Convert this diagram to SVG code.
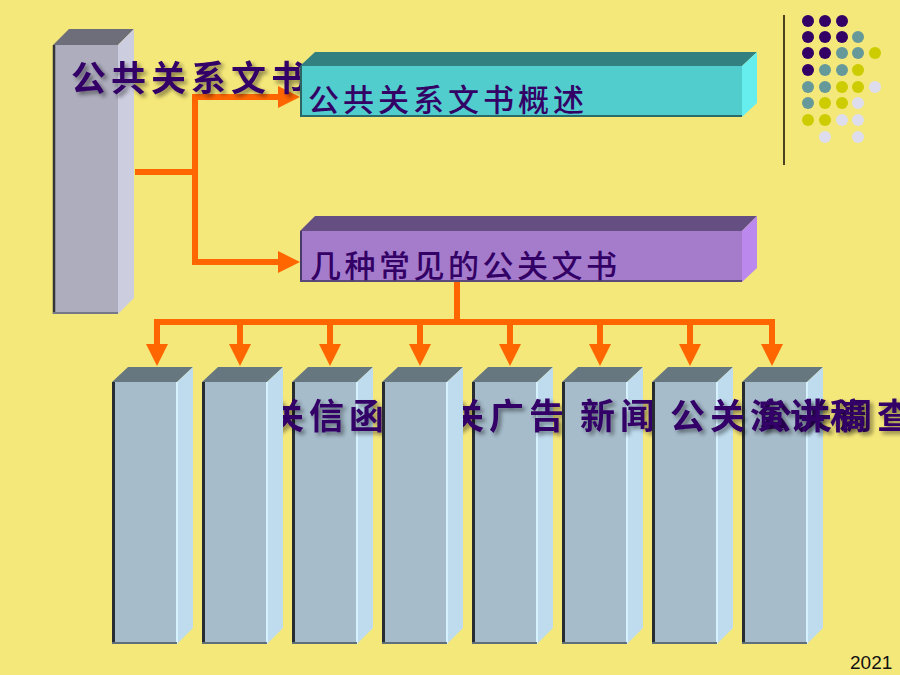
<svg xmlns="http://www.w3.org/2000/svg" xmlns:xlink="http://www.w3.org/1999/xlink" width="900" height="675" viewBox="0 0 900 675">
<style>
.lbl{font-family:"Noto Sans CJK SC","Noto Sans CJK JP",sans-serif;fill:#330066;}
.col{font-size:35px;letter-spacing:5px;font-weight:bold;}
.hdr{font-size:31px;font-weight:500;}
.conn{fill:none;stroke:#FF6600;stroke-width:6;stroke-linejoin:miter;}
.num{font-family:"Liberation Sans",Arial,sans-serif;font-size:19px;fill:#111;}
</style>
<defs>
<filter id="sh" x="-10%" y="-30%" width="120%" height="170%">
<feGaussianBlur in="SourceAlpha" stdDeviation="2"/>
<feOffset dx="3" dy="3"/>
<feComponentTransfer><feFuncA type="linear" slope="0.45"/></feComponentTransfer>
<feMerge><feMergeNode/><feMergeNode in="SourceGraphic"/></feMerge>
</filter>
<marker id="ah" viewBox="0 0 22 22" markerWidth="22" markerHeight="22" refX="0" refY="11" orient="auto" markerUnits="userSpaceOnUse">
<path d="M0,0 L22,11 L0,22 Z" fill="#FF6600"/>
</marker>
<g id="colbox">
<rect x="0" y="382" width="65" height="262" fill="#A6BCCB"/>
<polygon points="0,382 16,367 81,367 65,382" fill="#66777F"/>
<polygon points="65,382 81,367 81,628 65,644" fill="#BEDCEE"/>
<line x1="65" y1="382" x2="65" y2="644" stroke="#D6F2FF" stroke-width="2"/>
<line x1="1.5" y1="382" x2="1.5" y2="644" stroke="#262C30" stroke-width="3"/>
<line x1="0" y1="643" x2="65" y2="643" stroke="#5F6F7A" stroke-width="2"/>
</g>
</defs>
<rect width="900" height="675" fill="#F5E87A"/>

<g id="decor">
<line x1="784" y1="15" x2="784" y2="165" stroke="#4D4020" stroke-width="2"/>
<g fill="#330066">
<circle cx="808" cy="21" r="6"/><circle cx="825" cy="21" r="6"/><circle cx="842" cy="21" r="6"/>
<circle cx="808" cy="37" r="6"/><circle cx="825" cy="37" r="6"/><circle cx="842" cy="37" r="6"/>
<circle cx="808" cy="53" r="6"/><circle cx="825" cy="53" r="6"/>
<circle cx="808" cy="70" r="6"/>
</g>
<g fill="#669999">
<circle cx="858" cy="37" r="6"/>
<circle cx="842" cy="53" r="6"/><circle cx="858" cy="53" r="6"/>
<circle cx="825" cy="70" r="6"/><circle cx="842" cy="70" r="6"/>
<circle cx="808" cy="87" r="6"/><circle cx="825" cy="87" r="6"/>
<circle cx="808" cy="103" r="6"/>
</g>
<g fill="#CCCC00">
<circle cx="875" cy="53" r="6"/>
<circle cx="858" cy="70" r="6"/>
<circle cx="842" cy="87" r="6"/><circle cx="858" cy="87" r="6"/>
<circle cx="825" cy="103" r="6"/><circle cx="842" cy="103" r="6"/>
<circle cx="808" cy="120" r="6"/><circle cx="825" cy="120" r="6"/>
</g>
<g fill="#DDDDEE">
<circle cx="875" cy="87" r="6"/>
<circle cx="858" cy="103" r="6"/>
<circle cx="842" cy="120" r="6"/><circle cx="858" cy="120" r="6"/>
<circle cx="825" cy="137" r="6"/><circle cx="858" cy="137" r="6"/>
</g>
</g>

<g id="connectors">
<path class="conn" d="M135,172 H195"/>
<path class="conn" d="M195,172 V97 H278" marker-end="url(#ah)"/>
<path class="conn" d="M195,172 V262 H278" marker-end="url(#ah)"/>
<path class="conn" d="M457,282 V322"/>
<path class="conn" d="M157,344 V322 H772 V344" />
<path class="conn" d="M157,330 V344" marker-end="url(#ah)"/>
<path class="conn" d="M772,330 V344" marker-end="url(#ah)"/>
<path class="conn" d="M240,322 V344" marker-end="url(#ah)"/>
<path class="conn" d="M330,322 V344" marker-end="url(#ah)"/>
<path class="conn" d="M420,322 V344" marker-end="url(#ah)"/>
<path class="conn" d="M510,322 V344" marker-end="url(#ah)"/>
<path class="conn" d="M600,322 V344" marker-end="url(#ah)"/>
<path class="conn" d="M690,322 V344" marker-end="url(#ah)"/>
</g>

<g id="root">
<rect x="53" y="45" width="65" height="269" fill="#AEADBD"/>
<polygon points="53,45 69,29 134,29 118,45" fill="#6E6E7A"/>
<polygon points="118,45 134,29 134,298 118,314" fill="#CDCDE0"/>
<line x1="54" y1="45" x2="54" y2="314" stroke="#333338" stroke-width="2.5"/>
<line x1="53" y1="313" x2="118" y2="313" stroke="#77778A" stroke-width="2"/>
<text class="lbl col" x="71" y="91" filter="url(#sh)">公共关系文书</text>
</g>

<g id="overview">
<rect x="300" y="66" width="442" height="51" fill="#52CDCD"/>
<polygon points="300,66 315,52 757,52 742,66" fill="#338080"/>
<polygon points="742,66 757,52 757,103 742,117" fill="#66EEEE"/>
<line x1="301" y1="66" x2="301" y2="117" stroke="#2D6363" stroke-width="2"/>
<line x1="300" y1="116" x2="742" y2="116" stroke="#2D6B6B" stroke-width="2"/>
<text class="lbl hdr" x="308" y="111" letter-spacing="4">公共关系文书概述</text>
</g>

<g id="types">
<rect x="300" y="231" width="442" height="51" fill="#A57BCB"/>
<polygon points="300,231 315,216 757,216 742,231" fill="#654E82"/>
<polygon points="742,231 757,216 757,268 742,282" fill="#BB88EE"/>
<line x1="301" y1="231" x2="301" y2="282" stroke="#4A3A6A" stroke-width="2"/>
<line x1="300" y1="281" x2="742" y2="281" stroke="#5A4A7A" stroke-width="2"/>
<text class="lbl hdr" x="310" y="277" letter-spacing="3.5">几种常见的公关文书</text>
</g>

<g id="col1"><use xlink:href="#colbox" transform="translate(112,0)"/></g>
<g id="col3"><use xlink:href="#colbox" transform="translate(292,0)"/>
<text class="lbl col" x="229" y="429" filter="url(#sh)">公关信函</text></g>
<g id="col2"><use xlink:href="#colbox" transform="translate(202,0)"/></g>
<g id="col5"><use xlink:href="#colbox" transform="translate(472,0)"/>
<text class="lbl col" x="409" y="429" filter="url(#sh)">公关广告</text></g>
<g id="col4"><use xlink:href="#colbox" transform="translate(382,0)"/></g>
<g id="col6"><use xlink:href="#colbox" transform="translate(562,0)"/>
<text class="lbl col" x="580" y="429" filter="url(#sh)">新闻稿</text></g>
<g id="col8"><use xlink:href="#colbox" transform="translate(742,0)"/>
<text class="lbl col" x="757" y="429" filter="url(#sh)">公关调查报告</text></g>
<g id="col7"><use xlink:href="#colbox" transform="translate(652,0)"/>
<text class="lbl col" x="670" y="429" filter="url(#sh)">公关演讲稿</text></g>

<text class="num" x="850" y="669">2021</text>
</svg>
